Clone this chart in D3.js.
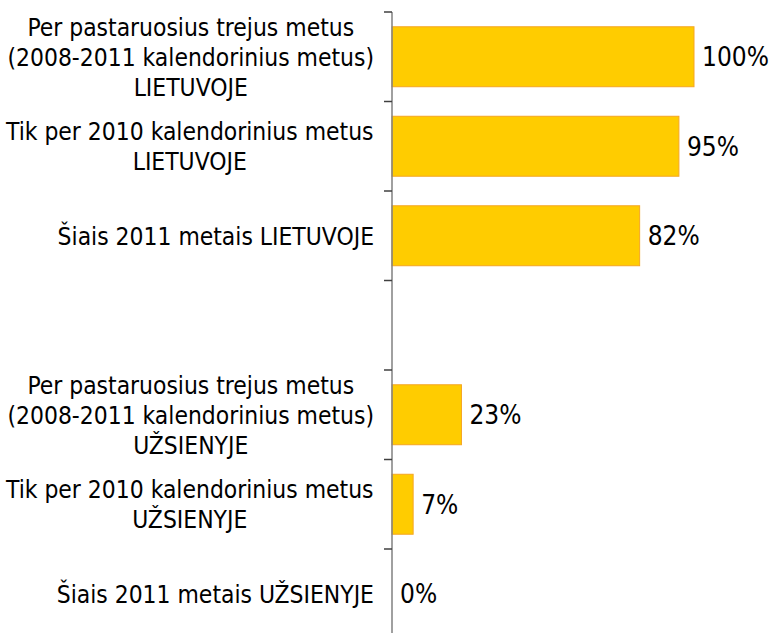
<script src="https://d3js.org/d3.v7.min.js"></script>
<style>
  body { margin: 0; background: #fff; }
  text { font-family: "DejaVu Sans Condensed", "DejaVu Sans", sans-serif; fill: #000; }
</style>
<body>
<svg width="771" height="633"></svg>
<script>
  // categories (blank slot between the two groups)
  const categories = [
    ["Per pastaruosius trejus metus", "(2008-2011 kalendorinius metus)", "LIETUVOJE"],
    ["Tik per 2010 kalendorinius metus", "LIETUVOJE"],
    ["Šiais 2011 metais LIETUVOJE"],
    [],
    ["Per pastaruosius trejus metus", "(2008-2011 kalendorinius metus)", "UŽSIENYJE"],
    ["Tik per 2010 kalendorinius metus", "UŽSIENYJE"],
    ["Šiais 2011 metais UŽSIENYJE"]
  ];
  const values = [100, 95, 82, null, 23, 7, 0];
  const valueLabels = ["100%", "95%", "82%", "", "23%", "7%", "0%"];

  const svg = d3.select("svg");
  const ids = categories.map((c, i) => i);

  const x0 = 392;
  const x = d3.scaleLinear().domain([0, 100]).range([x0, 694]);
  const y = d3.scaleBand().domain(ids).range([12, 638.5])
    .paddingInner(0.33).paddingOuter(0.165);
  const slot = d3.scaleBand().domain(ids).range([12, 638.5]);

  // bars
  svg.append("g").selectAll("rect")
    .data(ids.filter(i => values[i] !== null && values[i] > 0))
    .enter().append("rect")
    .attr("x", x(0))
    .attr("y", i => y(i))
    .attr("width", i => x(values[i]) - x(0))
    .attr("height", y.bandwidth())
    .attr("fill", "#ffcc00")
    .attr("stroke", "#f5a623")
    .attr("stroke-width", 1);

  // value labels
  svg.append("g").selectAll("text")
    .data(ids.filter(i => values[i] !== null))
    .enter().append("text")
    .attr("x", i => x(values[i]) + 8)
    .attr("y", i => y(i) + y.bandwidth() / 2)
    .attr("dy", "0.36em")
    .style("font-size", "26px")
    .text(i => valueLabels[i]);

  // axis line and ticks at slot boundaries
  svg.append("line")
    .attr("x1", x0).attr("x2", x0)
    .attr("y1", 12).attr("y2", 633)
    .attr("stroke", "#808080").attr("stroke-width", 1.5);
  svg.append("g").selectAll("line")
    .data(ids.concat([7]))
    .enter().append("line")
    .attr("x1", x0 - 8).attr("x2", x0)
    .attr("y1", i => i < 7 ? slot(i) : slot(6) + slot.step())
    .attr("y2", i => i < 7 ? slot(i) : slot(6) + slot.step())
    .attr("stroke", "#404040").attr("stroke-width", 1.5);

  // category labels, centred lines, block right-aligned to the axis
  const lineH = 30;
  ids.forEach(i => {
    const lines = categories[i];
    if (!lines.length) return;
    const t = svg.append("text")
      .attr("text-anchor", "middle")
      .style("font-size", "24.4px");
    lines.forEach((l, k) => {
      t.append("tspan")
        .attr("x", 0)
        .attr("y", slot(i) + slot.step() / 2 + (k - (lines.length - 1) / 2) * lineH)
        .attr("dy", "0.36em")
        .text(l);
    });
    const w = t.node().getBBox().width;
    t.attr("transform", `translate(${374 - w / 2},0)`);
  });
</script>
</body>
